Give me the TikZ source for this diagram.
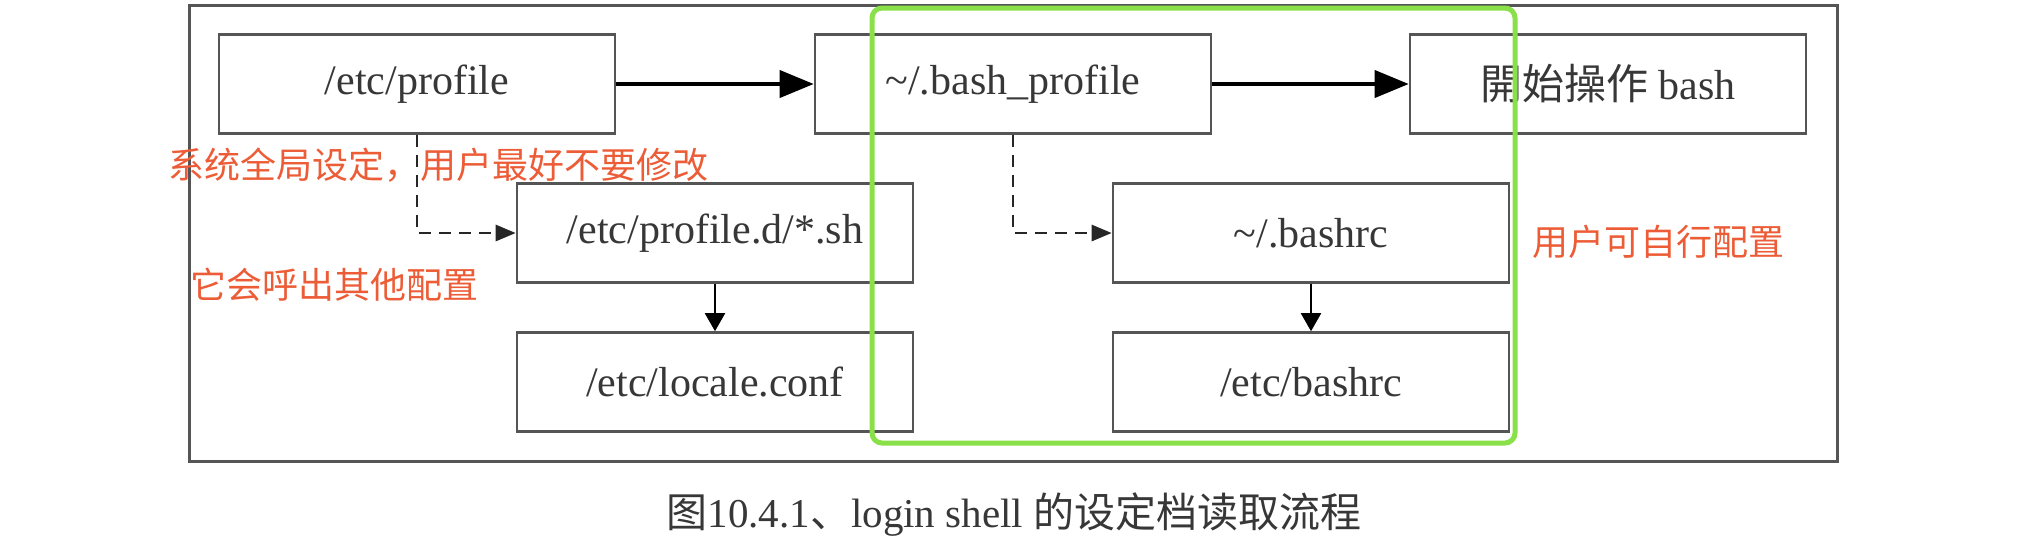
\documentclass[tikz,border=0pt]{standalone}
\usepackage{fontspec}
\setmainfont{Liberation Serif}
\newfontfamily\cjk{Noto Sans CJK SC}
\newfontfamily\cjktc{Noto Sans CJK TC}
\usetikzlibrary{arrows.meta}
\definecolor{boxgray}{RGB}{85,85,85}
\definecolor{textgray}{RGB}{55,55,55}
\definecolor{notered}{RGB}{236,92,54}
\definecolor{markgreen}{RGB}{137,224,72}
\tikzset{
  filebox/.style={draw=boxgray, line width=1.3pt, minimum width=198pt,
    minimum height=49.5pt, inner sep=0pt, text=textgray,
    font=\fontsize{21}{25}\selectfont},
  note/.style={text=notered, inner sep=0pt, font=\cjk\fontsize{18}{22}\selectfont},
  mainarrow/.style={line width=2pt, -{Triangle[length=17pt,width=13.5pt]}},
  callarrow/.style={draw=black!85, line width=1.4pt, dash pattern=on 6pt off 4pt,
    -{Triangle[length=10pt,width=8pt]}},
  nextarrow/.style={line width=1pt, -{Triangle[length=9pt,width=10pt]}},
}
\begin{document}
\begin{tikzpicture}[x=0.5pt, y=-0.5pt]
      \useasboundingbox (0,0) rectangle (2036,538);
      %
      \draw[boxgray, line width=1.5pt] (189,5) rectangle (1837,461);   % outer frame
      %
      \node[filebox] (profile) at (417,84) {/etc/profile};   % top row
      \node[filebox] (bashprofile) at (1013,84) {\textasciitilde/.bash\_profile};
      \node[filebox] (startbash) at (1608,84) {{\cjktc 開始操作} bash};
      %
      \node[filebox] (profiled) at (715,233) {/etc/profile.d/*.sh};   % middle row
      \node[filebox] (bashrc) at (1311,233) {\textasciitilde/.bashrc};
      %
      \node[filebox] (locale) at (715,382) {/etc/locale.conf};   % bottom row
      \node[filebox] (etcbashrc) at (1311,382) {/etc/bashrc};
      %
      \draw[mainarrow] (profile) -- (bashprofile);
      \draw[mainarrow] (bashprofile) -- (startbash);
      \draw[callarrow] (profile.south) |- (profiled.west);
      \draw[callarrow] (bashprofile.south) |- (bashrc.west);
      \draw[nextarrow] (profiled) -- (locale);
      \draw[nextarrow] (bashrc) -- (etcbashrc);
      %
      \draw[markgreen, line width=2.5pt, rounded corners=5pt] (872,8) rectangle (1515,443);   % user part
      %
      \node[note, anchor=west] (globalnote) at (168,165) {系统全局设定，用户最好不要修改};
      \node[note, anchor=west] (callnote) at (190,285) {它会呼出其他配置};
      \node[note, anchor=west] (usernote) at (1532,242) {用户可自行配置};
      %
      \node[text=textgray, font=\fontsize{20.5}{24}\selectfont] (caption) at (1014,515)
        {{\cjk 图}10.4.1{\cjk 、}login shell {\cjk 的设定档读取流程}};
      %
    \end{tikzpicture}
\end{document}
